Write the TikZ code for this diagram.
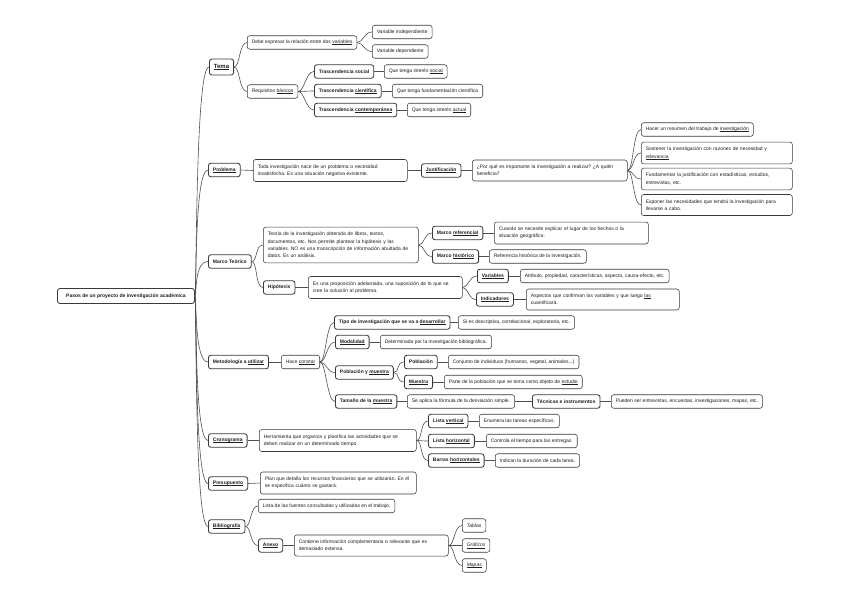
\documentclass[tikz,border=0pt]{standalone}
\usepackage{fontspec}
\setmainfont{Liberation Sans}
\frenchspacing
\newcommand{\mfs}{\fontsize{5.0}{7.3}\selectfont}
\newcommand{\mfsb}{\fontsize{5.0}{7.3}\selectfont\bfseries}
\newcommand{\mfsi}{\fontsize{5.0}{7.3}\selectfont\itshape}
\newcommand{\temafont}{\fontsize{6.0}{7}\selectfont\bfseries}
\newcommand{\mmu}[1]{\mbox{\setbox0\hbox{#1}\rlap{\rule[-0.9pt]{\wd0}{0.3pt}}\box0}}
\definecolor{bcol}{HTML}{3A3A3A}
\definecolor{lcol}{HTML}{505050}
\definecolor{tcol}{HTML}{1E1E1E}
\newcommand{\mmcurve}[2]{\draw[ln] (#1.east) .. controls +(6,0) and +(-8,0) .. (#2.west);}
\newcommand{\mmtrunk}[2]{\draw[ln] (#1.east) .. controls +(2,0) and +(-14,0) .. (#2.west);}
\newcommand{\mmline}[2]{\draw[ln] (#1.east) -- (#2.west);}
\begin{document}
\begin{tikzpicture}[x=1pt,y=-1pt,
  box/.style={draw=bcol, line width=0.55pt, rounded corners=2.5pt, fill=white, font=\mfs, text=tcol,
    inner xsep=4.5pt, inner ysep=2pt, minimum height=13.5pt, anchor=west},
  bbox/.style={box, font=\mfsb, line width=0.85pt},
  mbox/.style={box, align=left, text width=#1, inner ysep=5pt},
  ln/.style={draw=lcol, line width=0.6pt}]
\fill[white] (0,0) rectangle (848,600);
\useasboundingbox (0,0) rectangle (848,600);

% level 1
\node[bbox, minimum width=137pt, minimum height=15pt] (root) at (57,296) {Pasos de un proyecto de investigación académica};
\node[bbox, font=\temafont, minimum height=16pt] (tema) at (209,67) {\mmu{Tema}};
\node[bbox] (prob) at (208,170) {\mmu{Problema}};
\node[bbox] (mt) at (208,261.5) {Marco Teórico};
\node[bbox] (met) at (208,362) {Metodología a \mmu{utilizar}};
\node[bbox] (cro) at (208,440.5) {\mmu{Cronograma}};
\node[bbox] (pre) at (208,483.5) {\mmu{Presupuesto}};
\node[bbox] (bib) at (208,526.5) {\mmu{Bibliografía}};

% Tema
\node[box] (debe) at (247,42.5) {Debe expresar la relación entre dos \mmu{variables}};
\node[box] (vind) at (372,32) {Variable independiente};
\node[box] (vdep) at (372,51.5) {Variable dependiente};
\node[box] (req) at (247,91.5) {Requisitos \mmu{básicos}};
\node[bbox] (ts) at (314,71.5) {Trascendencia social};
\node[box] (ts2) at (384,71.5) {Que tenga interés \mmu{social}};
\node[bbox] (tc) at (314,91) {Trascendencia \mmu{científica}};
\node[box] (tc2) at (392,91) {Que tenga fundamentación científica};
\node[bbox] (tco) at (314,110) {Trascendencia \mmu{contemporánea}};
\node[box] (tco2) at (407,110) {Que tenga interés \mmu{actual}};

% Problema
\node[mbox=145pt] (toda) at (253,170.5) {Toda investigación nace de un problema o necesidad\\insatisfecha. Es una situación negativa existente.};
\node[bbox] (just) at (421,170.5) {\mmu{Justificación}};
\node[mbox=146pt] (porque) at (472,170.5) {¿Por qué es importante la investigación a realizar? ¿A quién\\beneficia?};
\node[box] (hacer) at (641,129.5) {Hacer un resumen del trabajo de \mmu{investigación}};
\node[mbox=142pt] (sost) at (641,153) {Sostener la investigación con razones de necesidad y\\\mmu{relevancia}};
\node[mbox=142pt] (fund) at (641,179) {Fundamentar la justificación con estadísticas, estudios,\\entrevistas, etc.};
\node[mbox=142pt] (expo) at (641,205) {Exponer las necesidades que tendrá la investigación para\\llevarse a cabo.};

% Marco Teorico
\node[mbox=146pt] (teoria) at (263,245) {Teoría de la investigación obtenida de libros, textos,\\documentos, etc. Nos permite plantear la hipótesis y las\\variables. NO es una transcripción de información abultada de\\datos. Es un análisis.};
\node[bbox] (hip) at (263,287.5) {Hipótesis};
\node[mbox=145pt] (esuna) at (308,287.5) {Es una proposición adelantada, una suposición de lo que se\\cree la solución al problema.};
\node[bbox] (mref) at (432,233) {Marco \mmu{referencial}};
\node[mbox=145pt] (cuando) at (494,233) {Cuando se necesite explicar el lugar de los hechos o la\\situación geográfica.};
\node[bbox] (mhist) at (432,256.5) {Marco \mmu{histórico}};
\node[box] (refh) at (489,256.5) {Referencia histórica de la investigación.};
\node[bbox] (var) at (477,276) {\mmu{Variables}};
\node[box] (atrib) at (520,276) {Atributo, propiedad, características, aspecto, causa-efecto, etc.};
\node[bbox] (ind) at (476,299.5) {\mmu{Indicadores}};
\node[mbox=144pt] (asp) at (526,299.5) {Aspectos que confirman las variables y que luego \mmu{las}\\cuantificará.};

% Metodologia
\node[box] (hace) at (281,362) {Hace \mmu{constar}};
\node[bbox] (tipo) at (334,322.5) {Tipo de investigación que se va a \mmu{desarrollar}};
\node[box] (sides) at (458,322.5) {Si es descriptiva, correlacional, exploratoria, etc.};
\node[bbox] (mod) at (335,342) {\mmu{Modalidad}};
\node[box] (det) at (380,342) {Determinada por la investigación bibliográfica.};
\node[bbox] (pym) at (335,372.5) {Población y \mmu{muestra}};
\node[bbox] (pob) at (404,362) {Población};
\node[box] (conj) at (448,362) {Conjunto de individuos (humanos, vegetal, animales...)};
\node[bbox] (mue) at (404,382) {\mmu{Muestra}};
\node[box] (parte) at (444,382) {Parte de la población que se toma como objeto de \mmu{estudio}};
\node[bbox] (tam) at (335,401.5) {Tamaño de la \mmu{muestra}};
\node[box] (seap) at (407,401.5) {Se aplica la fórmula de la desviación simple.};
\node[bbox] (tec) at (532,401.5) {Técnicas e instrumentos};
\node[box] (pued) at (611,401.5) {Pueden ser entrevistas, encuestas, investigaciones, mapas, etc.};

% Cronograma
\node[mbox=148pt] (herr) at (259,440.5) {Herramienta que organiza y planifica las actividades que se\\deben realizar en un determinado tiempo.};
\node[bbox] (lv) at (428,421) {Lista \mmu{vertical}};
\node[box] (enum) at (479,421) {Enumera las tareas específicas.};
\node[bbox] (lh) at (428,441) {Lista \mmu{horizontal}};
\node[box] (contr) at (486,441) {Controla el tiempo para las entregas.};
\node[bbox] (bh) at (428,460.5) {Barras \mmu{horizontales}};
\node[box] (indic) at (495,460.5) {Indican la duración de cada tarea.};

% Presupuesto
\node[mbox=147pt] (plan) at (260,483) {Plan que detalla los recursos financieros que se utilizarán. En él\\se especifica cuánto se gastará.};

% Bibliografia
\node[box] (lista) at (258,506) {Lista de las fuentes consultadas y utilizadas en el trabajo.};
\node[bbox] (anexo) at (258,545.5) {\mmu{Anexo}};
\node[mbox=145pt] (cont) at (294,545.5) {Contiene información complementaria o relevante que es\\demasiado extensa.};
\node[box, font=\mfsi] (tab) at (462,525.5) {Tablas};
\node[box, font=\mfsi] (graf) at (462,545.5) {\mmu{Gráficos}};
\node[box, font=\mfsi] (mapas) at (462,565.5) {\mmu{Mapas}};

% connectors
\mmtrunk{root}{tema}
\mmtrunk{root}{prob}
\mmtrunk{root}{mt}
\mmtrunk{root}{met}
\mmtrunk{root}{cro}
\mmtrunk{root}{pre}
\mmtrunk{root}{bib}

\mmcurve{tema}{debe}
\mmcurve{tema}{req}
\mmcurve{debe}{vind}
\mmcurve{debe}{vdep}
\mmcurve{req}{ts}
\mmcurve{req}{tc}
\mmcurve{req}{tco}
\mmline{ts}{ts2}
\mmline{tc}{tc2}
\mmline{tco}{tco2}

\mmline{prob}{toda}
\mmline{toda}{just}
\mmline{just}{porque}
\mmcurve{porque}{hacer}
\mmcurve{porque}{sost}
\mmcurve{porque}{fund}
\mmcurve{porque}{expo}

\mmcurve{mt}{teoria}
\mmcurve{mt}{hip}
\mmcurve{teoria}{mref}
\mmcurve{teoria}{mhist}
\mmline{mref}{cuando}
\mmline{mhist}{refh}
\mmline{hip}{esuna}
\mmcurve{esuna}{var}
\mmcurve{esuna}{ind}
\mmline{var}{atrib}
\mmline{ind}{asp}

\mmline{met}{hace}
\mmcurve{hace}{tipo}
\mmcurve{hace}{mod}
\mmcurve{hace}{pym}
\mmcurve{hace}{tam}
\mmline{tipo}{sides}
\mmline{mod}{det}
\mmcurve{pym}{pob}
\mmcurve{pym}{mue}
\mmline{pob}{conj}
\mmline{mue}{parte}
\mmline{tam}{seap}
\mmline{seap}{tec}
\mmline{tec}{pued}

\mmline{cro}{herr}
\mmcurve{herr}{lv}
\mmcurve{herr}{lh}
\mmcurve{herr}{bh}
\mmline{lv}{enum}
\mmline{lh}{contr}
\mmline{bh}{indic}

\mmline{pre}{plan}

\mmcurve{bib}{lista}
\mmcurve{bib}{anexo}
\mmline{anexo}{cont}
\mmcurve{cont}{tab}
\mmcurve{cont}{graf}
\mmcurve{cont}{mapas}
\end{tikzpicture}
\end{document}
